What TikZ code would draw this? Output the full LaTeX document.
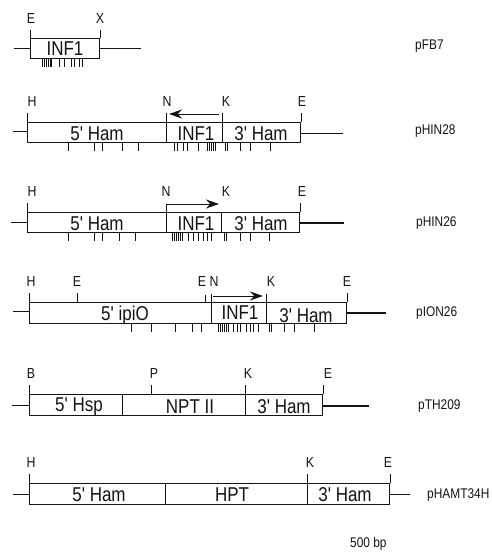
\documentclass[tikz,border=0pt]{standalone}
\usepackage{fontspec}
\setmainfont{Liberation Sans}
\newfontfamily\narrowfont[FakeStretch=0.85]{Liberation Sans}
\usetikzlibrary{arrows.meta,positioning}
\definecolor{FigureInk}{HTML}{141414}
\tikzset{
  segment/.style={draw=FigureInk, line width=1.1pt, fill=white, minimum height=20pt, anchor=north west, inner sep=0pt},
  insert/.style={font=\narrowfont\fontsize{20}{21}\selectfont, text=FigureInk, inner sep=0pt},
  sitename/.style={font=\narrowfont\fontsize{14.5}{15}\selectfont, text=FigureInk, inner sep=0pt},
  plasmid/.style={font=\narrowfont\fontsize{14}{15}\selectfont, text=FigureInk, inner sep=0pt, anchor=west},
  vector/.style={draw=FigureInk, line width=.9pt},
  heavy/.style={draw=FigureInk, line width=1.3pt},
  site/.style={draw=FigureInk, line width=1pt},
  exon/.style={draw=FigureInk, line width=.8pt},
  reading/.style={-{Stealth[length=13pt,width=9pt]}, line width=1pt, draw=FigureInk},
}
\begin{document}
\begin{tikzpicture}[x=1pt,y=-1pt]
  \useasboundingbox (0,0) rectangle (491,558);
  % pFB7
  \node[segment, minimum width=69pt] (infA) at (30,38) {};
  \node[insert] (infAtext) at (65,49) {INF1};
  \node[sitename] (eA) at (31,19) {E};
  \node[sitename] (xA) at (100,19) {X};
  \node[plasmid] (pFB) at (415,46) {pFB7};
  \coordinate (leftA) at (14,48);
  \coordinate (rightA) at (141,48);
  \draw[vector] (leftA) -- (leftA -| infA.west);
  \draw[vector] (rightA -| infA.east) -- (rightA);
  \draw[site] (infA.north west) -- ++(0,-8);
  \draw[site] (infA.north east) -- ++(0,-8);
  \foreach \x in {42,44,46,48,50,51,59,64,71,74,79,82}
    \draw[exon] (\x,58) -- (\x,67);
  % pHIN28
  \node[segment, minimum width=139pt] (hamB) at (27,122) {};
  \node[segment, minimum width=56pt] (infB) at (166,122) {};
  \node[segment, minimum width=78pt] (tailB) at (222,122) {};
  \node[insert] (hamBtext) at (97,134) {5' Ham};
  \node[insert] (infBtext) at (196,134) {INF1};
  \node[insert] (tailBtext) at (261,134) {3' Ham};
  \node[sitename] (hB) at (32,102) {H};
  \node[sitename] (nB) at (167,102) {N};
  \node[sitename] (kB) at (226,102) {K};
  \node[sitename] (eB) at (302,102) {E};
  \node[plasmid] (pHINa) at (415,131) {pHIN28};
  \coordinate (leftB) at (13,131);
  \coordinate (rightB) at (343,133);
  \coordinate (startB) at (219,114);
  \coordinate (endB) at (169,114);
  \draw[vector] (leftB) -- (leftB -| hamB.west);
  \draw[vector] (rightB -| tailB.east) -- (rightB);
  \draw[site] (hamB.north west) -- ++(0,-9);
  \draw[site] (infB.north west) -- ++(0,-9);
  \draw[site] (tailB.north west) -- ++(0,-9);
  \draw[site] (tailB.north east) -- ++(0,-9);
  \draw[reading] (startB) -- (endB);
  \foreach \x in {68,94,102,122,138,174,177,183,187,198,207,209,211,213,215,225,227,240,250,270}
    \draw[exon] (\x,142) -- (\x,151);
  % pHIN26
  \node[segment, minimum width=139pt] (hamC) at (27,212) {};
  \node[segment, minimum width=55pt] (infC) at (166,212) {};
  \node[segment, minimum width=78pt] (tailC) at (221,212) {};
  \node[insert] (hamCtext) at (97,224) {5' Ham};
  \node[insert] (infCtext) at (196,224) {INF1};
  \node[insert] (tailCtext) at (261,224) {3' Ham};
  \node[sitename] (hC) at (32,192) {H};
  \node[sitename] (nC) at (166,192) {N};
  \node[sitename] (kC) at (226,192) {K};
  \node[sitename] (eC) at (302,192) {E};
  \node[plasmid] (pHINb) at (416,223) {pHIN26};
  \coordinate (leftC) at (11,222);
  \coordinate (rightC) at (344,223);
  \coordinate (startC) at (167,204);
  \coordinate (endC) at (219,204);
  \draw[vector] (leftC) -- (leftC -| hamC.west);
  \draw[heavy] (rightC -| tailC.east) -- (rightC);
  \draw[site] (hamC.north west) -- ++(0,-9);
  \draw[site] (infC.north west) -- ++(0,-8);
  \draw[site] (tailC.north east) -- ++(0,-9);
  \draw[reading] (startC) -- (endC);
  \foreach \x in {68,94,102,119,135,172,174,176,178,180,182,188,193,198,203,207,211,224,226,240,250,269}
    \draw[exon] (\x,232) -- (\x,241);
  % pION26
  \node[segment, minimum width=182pt, minimum height=21pt] (ipiD) at (29,302) {};
  \node[segment, minimum width=55pt, minimum height=21pt] (infD) at (211,302) {};
  \node[segment, minimum width=80pt, minimum height=21pt] (tailD) at (266,302) {};
  \node[insert] (ipiDtext) at (125,315) {5' ipiO};
  \node[insert] (infDtext) at (240,313) {INF1};
  \node[insert] (tailDtext) at (306,316) {3' Ham};
  \node[sitename] (hD) at (31,282) {H};
  \node[sitename] (eD) at (77,282) {E};
  \node[sitename] (eDb) at (202,282) {E};
  \node[sitename] (nD) at (214,282) {N};
  \node[sitename] (kD) at (271,282) {K};
  \node[sitename] (eDc) at (347,282) {E};
  \node[plasmid] (pION) at (416,313) {pION26};
  \coordinate (leftD) at (13,311);
  \coordinate (rightD) at (386,313);
  \coordinate (startD) at (213,296);
  \coordinate (endD) at (263,296);
  \draw[vector] (leftD) -- (leftD -| ipiD.west);
  \draw[heavy] (rightD -| tailD.east) -- (rightD);
  \draw[site] (ipiD.north west) -- ++(0,-9);
  \draw[site] (77,302) -- (77,293);
  \draw[site] (205,302) -- (205,295);
  \draw[site] (infD.north west) -- ++(0,-8);
  \draw[site] (tailD.north west) -- ++(0,-8);
  \draw[site] (tailD.north east) -- ++(0,-9);
  \draw[reading] (startD) -- (endD);
  \foreach \x in {131,151,175,192,201,218,220,222,224,226,228,233,237,240,246,250,253,258,269,271,284,294,314}
    \draw[exon] (\x,323) -- (\x,332);
  % pTH209
  \node[segment, minimum width=93pt, minimum height=21pt] (hspE) at (29,394) {};
  \node[segment, minimum width=123pt, minimum height=21pt] (nptE) at (122,394) {};
  \node[segment, minimum width=77pt, minimum height=21pt] (tailE) at (245,394) {};
  \node[insert] (hspEtext) at (79,407) {5' Hsp};
  \node[insert] (nptEtext) at (190,407) {NPT II};
  \node[insert] (tailEtext) at (284,407) {3' Ham};
  \node[sitename] (bE) at (31,374) {B};
  \node[sitename] (pE) at (154,374) {P};
  \node[sitename] (kE) at (248,374) {K};
  \node[sitename] (eE) at (328,374) {E};
  \node[plasmid] (pTH) at (418,406) {pTH209};
  \coordinate (leftE) at (12,405);
  \coordinate (rightE) at (369,406);
  \draw[vector] (leftE) -- (leftE -| hspE.west);
  \draw[heavy] (rightE -| tailE.east) -- (rightE);
  \draw[site] (hspE.north west) -- ++(0,-9);
  \draw[site] (151,394) -- (151,385);
  \draw[site] (tailE.north west) -- ++(0,-9);
  \draw[site] (tailE.north east) -- ++(0,-9);
  % pHAMT34H
  \node[segment, minimum width=136pt, minimum height=21pt] (hamF) at (29,483) {};
  \node[segment, minimum width=142pt, minimum height=21pt] (hptF) at (165,483) {};
  \node[segment, minimum width=82pt, minimum height=21pt] (tailF) at (307,483) {};
  \node[insert] (hamFtext) at (99,495) {5' Ham};
  \node[insert] (hptFtext) at (232,495) {HPT};
  \node[insert] (tailFtext) at (345,495) {3' Ham};
  \node[sitename] (hF) at (31,463) {H};
  \node[sitename] (kF) at (310,463) {K};
  \node[sitename] (eF) at (388,463) {E};
  \node[plasmid] (pHAMT) at (427,495) {pHAMT34H};
  \coordinate (leftF) at (13,494);
  \coordinate (rightF) at (410,494);
  \draw[vector] (leftF) -- (leftF -| hamF.west);
  \draw[vector] (rightF -| tailF.east) -- (rightF);
  \draw[site] (hamF.north west) -- ++(0,-9);
  \draw[site] (tailF.north west) -- ++(0,-9);
  \draw[site] (tailF.north east) -- ++(0,-9);
  \node[plasmid] (scale) at (350,544) {500 bp};
\end{tikzpicture}
\end{document}
